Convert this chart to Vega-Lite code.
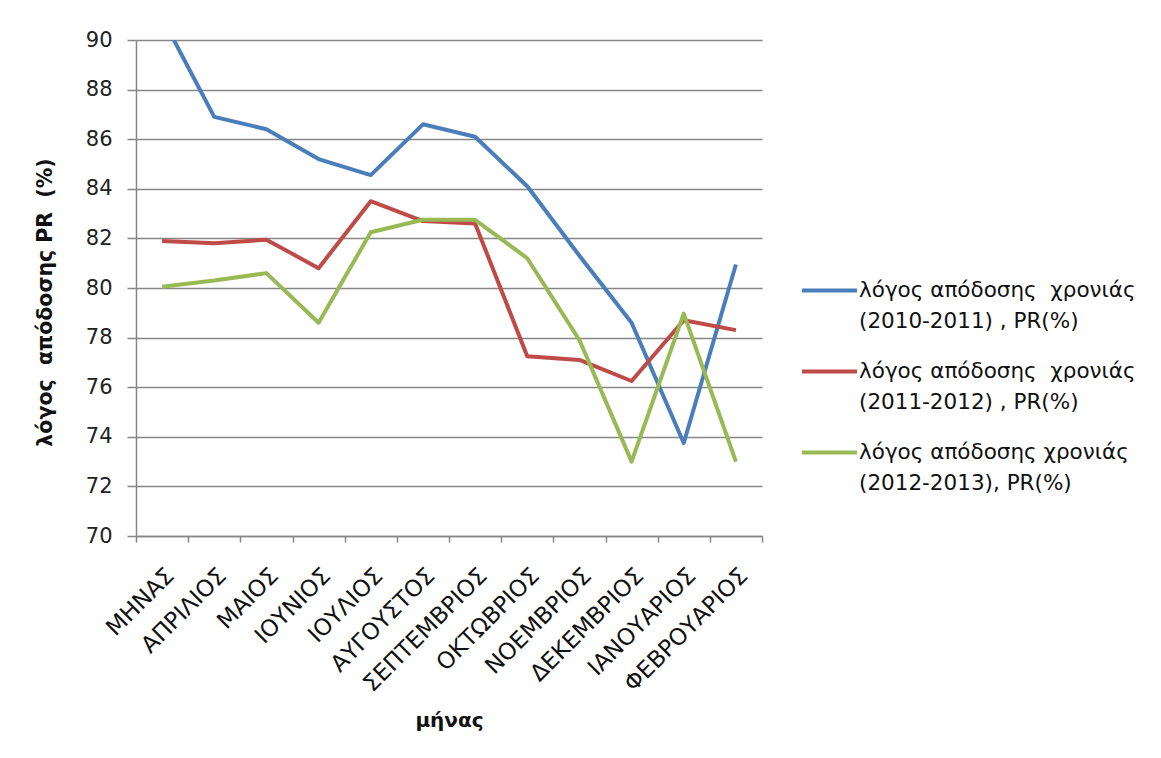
{
  "$schema": "https://vega.github.io/schema/vega-lite/v6.json",
  "width": 626,
  "height": 496,
  "autosize": {"type": "none"},
  "padding": {"left": 136, "top": 40, "right": 399, "bottom": 222},
  "background": "white",
  "config": {
    "view": {"stroke": null},
    "font": "Lato"
  },
  "data": {
    "values": [
      {"month": "ΜΗΝΑΣ", "series": "s1", "value": 90.9},
      {"month": "ΑΠΡΙΛΙΟΣ", "series": "s1", "value": 86.9},
      {"month": "ΜΑΙΟΣ", "series": "s1", "value": 86.4},
      {"month": "ΙΟΥΝΙΟΣ", "series": "s1", "value": 85.2},
      {"month": "ΙΟΥΛΙΟΣ", "series": "s1", "value": 84.55},
      {"month": "ΑΥΓΟΥΣΤΟΣ", "series": "s1", "value": 86.6},
      {"month": "ΣΕΠΤΕΜΒΡΙΟΣ", "series": "s1", "value": 86.1},
      {"month": "ΟΚΤΩΒΡΙΟΣ", "series": "s1", "value": 84.1},
      {"month": "ΝΟΕΜΒΡΙΟΣ", "series": "s1", "value": 81.3},
      {"month": "ΔΕΚΕΜΒΡΙΟΣ", "series": "s1", "value": 78.6},
      {"month": "ΙΑΝΟΥΑΡΙΟΣ", "series": "s1", "value": 73.75},
      {"month": "ΦΕΒΡΟΥΑΡΙΟΣ", "series": "s1", "value": 80.95},
      {"month": "ΜΗΝΑΣ", "series": "s2", "value": 81.9},
      {"month": "ΑΠΡΙΛΙΟΣ", "series": "s2", "value": 81.8},
      {"month": "ΜΑΙΟΣ", "series": "s2", "value": 81.95},
      {"month": "ΙΟΥΝΙΟΣ", "series": "s2", "value": 80.8},
      {"month": "ΙΟΥΛΙΟΣ", "series": "s2", "value": 83.5},
      {"month": "ΑΥΓΟΥΣΤΟΣ", "series": "s2", "value": 82.7},
      {"month": "ΣΕΠΤΕΜΒΡΙΟΣ", "series": "s2", "value": 82.6},
      {"month": "ΟΚΤΩΒΡΙΟΣ", "series": "s2", "value": 77.25},
      {"month": "ΝΟΕΜΒΡΙΟΣ", "series": "s2", "value": 77.1},
      {"month": "ΔΕΚΕΜΒΡΙΟΣ", "series": "s2", "value": 76.25},
      {"month": "ΙΑΝΟΥΑΡΙΟΣ", "series": "s2", "value": 78.7},
      {"month": "ΦΕΒΡΟΥΑΡΙΟΣ", "series": "s2", "value": 78.3},
      {"month": "ΜΗΝΑΣ", "series": "s3", "value": 80.05},
      {"month": "ΑΠΡΙΛΙΟΣ", "series": "s3", "value": 80.3},
      {"month": "ΜΑΙΟΣ", "series": "s3", "value": 80.6},
      {"month": "ΙΟΥΝΙΟΣ", "series": "s3", "value": 78.6},
      {"month": "ΙΟΥΛΙΟΣ", "series": "s3", "value": 82.25},
      {"month": "ΑΥΓΟΥΣΤΟΣ", "series": "s3", "value": 82.75},
      {"month": "ΣΕΠΤΕΜΒΡΙΟΣ", "series": "s3", "value": 82.75},
      {"month": "ΟΚΤΩΒΡΙΟΣ", "series": "s3", "value": 81.2},
      {"month": "ΝΟΕΜΒΡΙΟΣ", "series": "s3", "value": 77.9},
      {"month": "ΔΕΚΕΜΒΡΙΟΣ", "series": "s3", "value": 73.0},
      {"month": "ΙΑΝΟΥΑΡΙΟΣ", "series": "s3", "value": 78.97},
      {"month": "ΦΕΒΡΟΥΑΡΙΟΣ", "series": "s3", "value": 73.0}
    ]
  },
  "mark": {"type": "line", "clip": true, "strokeWidth": 4, "strokeJoin": "round"},
  "encoding": {
    "x": {
      "field": "month",
      "type": "nominal",
      "sort": ["ΜΗΝΑΣ", "ΑΠΡΙΛΙΟΣ", "ΜΑΙΟΣ", "ΙΟΥΝΙΟΣ", "ΙΟΥΛΙΟΣ", "ΑΥΓΟΥΣΤΟΣ", "ΣΕΠΤΕΜΒΡΙΟΣ", "ΟΚΤΩΒΡΙΟΣ", "ΝΟΕΜΒΡΙΟΣ", "ΔΕΚΕΜΒΡΙΟΣ", "ΙΑΝΟΥΑΡΙΟΣ", "ΦΕΒΡΟΥΑΡΙΟΣ"],
      "scale": {"type": "band", "paddingInner": 0, "paddingOuter": 0},
      "bandPosition": 0.5,
      "axis": {
        "title": "μήνας",
        "titleFont": "DejaVu Sans",
        "titleFontSize": 20,
        "titleFontWeight": "bold",
        "titleColor": "#111",
        "titlePadding": 14,
        "labelAngle": -45,
        "labelFont": "DejaVu Sans",
        "labelFontSize": 23,
        "labelColor": "#111",
        "labelPadding": 22,
        "tickBand": "extent",
        "tickSize": 6,
        "tickColor": "#868686",
        "tickWidth": 1.5,
        "domainColor": "#868686",
        "domainWidth": 1.5,
        "grid": false
      }
    },
    "y": {
      "field": "value",
      "type": "quantitative",
      "scale": {"domain": [70, 90], "zero": false, "nice": false},
      "axis": {
        "title": "λόγος\u00a0 απόδοσης PR\u00a0 (%)",
        "titleFont": "DejaVu Sans",
        "titleFontSize": 20.5,
        "titleFontWeight": "bold",
        "titleColor": "#111",
        "titlePadding": 30,
        "titleY": 262,
        "values": [70, 72, 74, 76, 78, 80, 82, 84, 86, 88, 90],
        "labelFont": "DejaVu Sans",
        "labelFontSize": 21,
        "labelColor": "#222",
        "labelPadding": 15,
        "tickSize": 9,
        "tickColor": "#868686",
        "tickWidth": 1.5,
        "domainColor": "#868686",
        "domainWidth": 1.5,
        "grid": true,
        "gridColor": "#868686",
        "gridWidth": 1.5
      }
    },
    "color": {
      "field": "series",
      "type": "nominal",
      "scale": {"domain": ["s1", "s2", "s3"], "range": ["#4A7EBB", "#BE4B48", "#98B954"]},
      "legend": {
        "title": null,
        "orient": "none",
        "legendX": 664,
        "legendY": 221,
        "symbolType": "stroke",
        "symbolSize": 3025,
        "symbolStrokeWidth": 4,
        "labelFont": "DejaVu Sans",
        "labelFontSize": 21.5,
        "labelColor": "#111",
        "labelOffset": 0,
        "labelLimit": 400,
        "rowPadding": 10,
        "labelExpr": "datum.value == 's1' ? ['λόγος απόδοσης\u00a0 χρονιάς', '(2010-2011) , PR(%)'] : datum.value == 's2' ? ['λόγος απόδοσης\u00a0 χρονιάς', '(2011-2012) , PR(%)'] : ['λόγος απόδοσης χρονιάς', '(2012-2013), PR(%)']",
        "encode": {"labels": {"update": {"lineHeight": {"value": 31}}}}
      }
    }
  }
}
